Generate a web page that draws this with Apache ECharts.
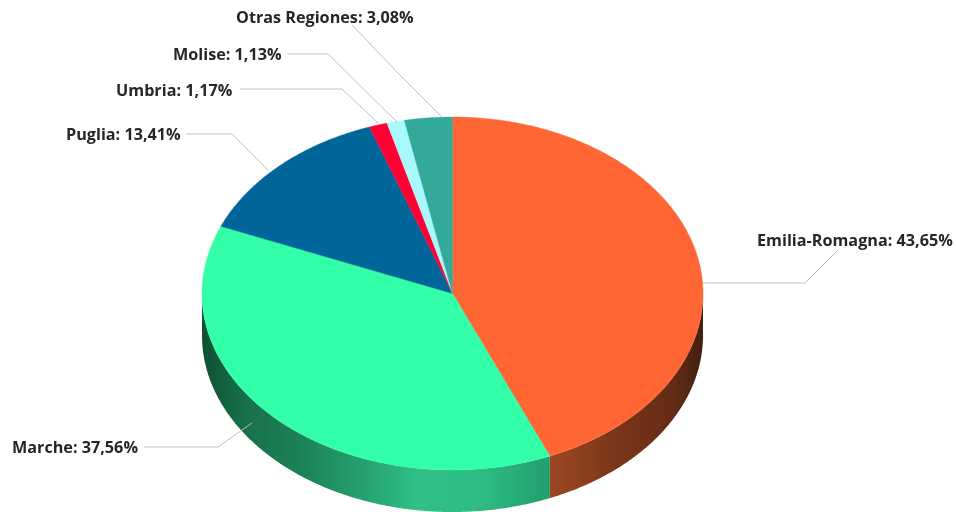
<!DOCTYPE html>
<html>
<head>
<meta charset="utf-8">
<title>Regiones</title>
<style>html,body{margin:0;padding:0;background:#fff}#chart{width:956px;height:512px}</style>
<script src="https://cdn.jsdelivr.net/npm/echarts@6/dist/echarts.min.js"></script>
</head>
<body>
<div id="chart"></div>
<script>
// Share per region, clockwise from twelve o'clock
const regions = ['Emilia-Romagna', 'Marche', 'Puglia', 'Umbria', 'Molise', 'Otras Regiones'];
const shares = [43.65, 37.56, 13.41, 1.17, 1.13, 3.08];
const topColors = ['#FF6633', '#33FFA9', '#006699', '#FF0033', '#A9F8FC', '#33AA99'];

// Gradient stops along x for the visible outer wall of the two front slices
const wallStops = {
  0: [[0, '#9C4723'], [0.45, '#7A3519'], [0.8, '#642C15'], [1, '#42200F']],
  1: [[0, '#0E5032'], [0.12, '#17704A'], [0.3, '#1D8459'], [0.5, '#27A874'], [0.62, '#30C088'], [0.8, '#2EBC84'], [1, '#219E6E']]
};

// Ellipse of the disc and the height of its wall
const disc = { cx: 452.5, cy: 293.5, rx: 250.5, ry: 176.5, depth: 42 };

// Label anchors and leader polylines
const labelLayout = [
  { x: 757, y: 241.5, line: [[703, 283], [805, 283], [838, 250]] },
  { x: 12, y: 448.5, line: [[144, 447], [218, 447], [252, 423]] },
  { x: 66, y: 135.5, line: [[186, 134], [232, 134], [268, 170]] },
  { x: 116, y: 91.5, line: [[240, 89], [342, 89], [378, 123]] },
  { x: 173, y: 55.5, line: [[287, 54], [328, 54], [397, 122]] },
  { x: 236, y: 18.5, line: [[352, 25], [397, 72], [442, 117]] }
];

const total = shares.reduce((a, b) => a + b, 0);

function rim(deg, drop) {
  const a = deg * Math.PI / 180;
  return [disc.cx + disc.rx * Math.sin(a), disc.cy - disc.ry * Math.cos(a) + (drop || 0)];
}

function arc(from, to, drop) {
  const pts = [];
  const steps = Math.max(2, Math.ceil((to - from) * 2));
  for (let i = 0; i <= steps; i++) pts.push(rim(from + (to - from) * i / steps, drop));
  return pts;
}

function renderSlice(params, api) {
  const i = params.dataIndex;
  let before = 0;
  for (let k = 0; k < i; k++) before += shares[k];
  const start = before / total * 360;
  const end = start + api.value(0) / total * 360;
  const children = [];

  // Outer wall: only the part of the rim facing the viewer
  const wallFrom = Math.max(start, 90);
  const wallTo = Math.min(end, 270);
  if (wallTo > wallFrom) {
    const upper = arc(wallFrom, wallTo, 0);
    const lower = arc(wallFrom, wallTo, disc.depth).reverse();
    const xs = upper.map(p => p[0]);
    const stops = (wallStops[i] || [[0, '#555'], [1, '#555']]).map(s => ({ offset: s[0], color: s[1] }));
    const x0 = Math.min.apply(null, xs);
    const x1 = Math.max.apply(null, xs);
    children.push({
      type: 'polygon',
      shape: { points: upper.concat(lower) },
      style: { fill: new echarts.graphic.LinearGradient(x0, 0, x1, 0, stops, true) }
    });
  }

  // Top face
  children.push({
    type: 'polygon',
    shape: { points: [[disc.cx, disc.cy]].concat(arc(start, end, 0)) },
    style: { fill: topColors[i], stroke: topColors[i], lineWidth: 0.4 }
  });

  // Leader line and label
  const place = labelLayout[i];
  children.push({
    type: 'polyline',
    shape: { points: place.line },
    style: { fill: 'none', stroke: '#BFBFBF', lineWidth: 1 },
    z2: 5
  });
  children.push({
    type: 'text',
    x: place.x,
    y: place.y,
    z2: 6,
    style: {
      text: regions[i] + ': ' + api.value(0).toFixed(2).replace('.', ',') + '%',
      font: 'bold 16.2px "Open Sans", Lato, sans-serif',
      fill: '#262626',
      align: 'left',
      verticalAlign: 'middle'
    }
  });
  return { type: 'group', children: children };
}

const chart = echarts.init(document.getElementById('chart'), null, { renderer: 'canvas' });
chart.setOption({
  animation: false,
  backgroundColor: '#fff',
  series: [{
    type: 'custom',
    coordinateSystem: 'none',
    renderItem: renderSlice,
    data: shares.map((v, i) => ({ name: regions[i], value: [v] }))
  }]
});
</script>
</body>
</html>
